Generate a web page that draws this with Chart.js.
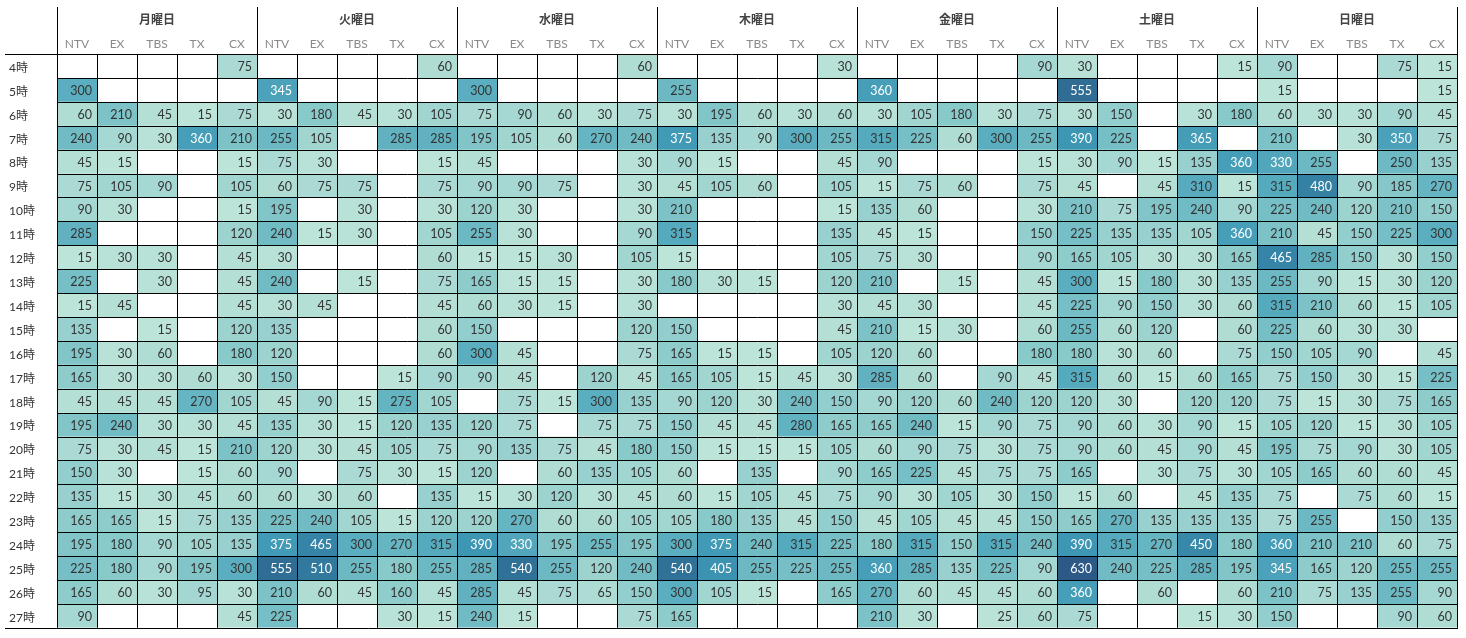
<!DOCTYPE html>
<html lang="ja">
<head>
<meta charset="utf-8">
<title>曜日・時間帯別 局別</title>
<script src="https://cdn.jsdelivr.net/npm/chart.js@4/dist/chart.umd.min.js"></script>
<style>
  html, body { margin: 0; padding: 0; background: #fff; }
  #wrap { width: 1466px; height: 638px; }
</style>
</head>
<body>
<div id="wrap"><canvas id="heat"></canvas></div>
<script>
var DAYS = ["月曜日", "火曜日", "水曜日", "木曜日", "金曜日", "土曜日", "日曜日"];
var CHANNELS = ["NTV", "EX", "TBS", "TX", "CX"];
var HOURS = ["4時", "5時", "6時", "7時", "8時", "9時", "10時", "11時", "12時", "13時", "14時", "15時",
  "16時", "17時", "18時", "19時", "20時", "21時", "22時", "23時", "24時", "25時", "26時", "27時"];

// one row per hour: [NTV, EX, TBS, TX, CX], null = blank cell
var MON = [
  [null, null, null, null, 75], [300, null, null, null, null], [60, 210, 45, 15, 75], [240, 90, 30, 360, 210],
  [45, 15, null, null, 15], [75, 105, 90, null, 105], [90, 30, null, null, 15], [285, null, null, null, 120],
  [15, 30, 30, null, 45], [225, null, 30, null, 45], [15, 45, null, null, 45], [135, null, 15, null, 120],
  [195, 30, 60, null, 180], [165, 30, 30, 60, 30], [45, 45, 45, 270, 105], [195, 240, 30, 30, 45],
  [75, 30, 45, 15, 210], [150, 30, null, 15, 60], [135, 15, 30, 45, 60], [165, 165, 15, 75, 135],
  [195, 180, 90, 105, 135], [225, 180, 90, 195, 300], [165, 60, 30, 95, 30], [90, null, null, null, 45]
];
var TUE = [
  [null, null, null, null, 60], [345, null, null, null, null], [30, 180, 45, 30, 105], [255, 105, null, 285, 285],
  [75, 30, null, null, 15], [60, 75, 75, null, 75], [195, null, 30, null, 30], [240, 15, 30, null, 105],
  [30, null, null, null, 60], [240, null, 15, null, 75], [30, 45, null, null, 45], [135, null, null, null, 60],
  [120, null, null, null, 60], [150, null, null, 15, 90], [45, 90, 15, 275, 105], [135, 30, 15, 120, 135],
  [120, 30, 45, 105, 75], [90, null, 75, 30, 15], [60, 30, 60, null, 135], [225, 240, 105, 15, 120],
  [375, 465, 300, 270, 315], [555, 510, 255, 180, 255], [210, 60, 45, 160, 45], [225, null, null, 30, 15]
];
var WED = [
  [null, null, null, null, 60], [300, null, null, null, null], [75, 90, 60, 30, 75], [195, 105, 60, 270, 240],
  [45, null, null, null, 30], [90, 90, 75, null, 30], [120, 30, null, null, 30], [255, 30, null, null, 90],
  [15, 15, 30, null, 105], [165, 15, 15, null, 30], [60, 30, 15, null, 30], [150, null, null, null, 120],
  [300, 45, null, null, 75], [90, 45, null, 120, 45], [null, 75, 15, 300, 135], [120, 75, null, 75, 75],
  [90, 135, 75, 45, 180], [120, null, 60, 135, 105], [15, 30, 120, 30, 45], [120, 270, 60, 60, 105],
  [390, 330, 195, 255, 195], [285, 540, 255, 120, 240], [285, 45, 75, 65, 150], [240, 15, null, null, 75]
];
var THU = [
  [null, null, null, null, 30], [255, null, null, null, null], [30, 195, 60, 30, 60], [375, 135, 90, 300, 255],
  [90, 15, null, null, 45], [45, 105, 60, null, 105], [210, null, null, null, 15], [315, null, null, null, 135],
  [15, null, null, null, 105], [180, 30, 15, null, 120], [null, null, null, null, 30], [150, null, null, null, 45],
  [165, 15, 15, null, 105], [165, 105, 15, 45, 30], [90, 120, 30, 240, 150], [150, 45, 45, 280, 165],
  [150, 15, 15, 15, 105], [60, null, 135, null, 90], [60, 15, 105, 45, 75], [105, 180, 135, 45, 150],
  [300, 375, 240, 315, 225], [540, 405, 255, 225, 255], [300, 105, 15, null, 165], [165, null, null, null, null]
];
var FRI = [
  [null, null, null, null, 90], [360, null, null, null, null], [30, 105, 180, 30, 75], [315, 225, 60, 300, 255],
  [90, null, null, null, 15], [15, 75, 60, null, 75], [135, 60, null, null, 30], [45, 15, null, null, 150],
  [75, 30, null, null, 90], [210, null, 15, null, 45], [45, 30, null, null, 45], [210, 15, 30, null, 60],
  [120, 60, null, null, 180], [285, 60, null, 90, 45], [90, 120, 60, 240, 120], [165, 240, 15, 90, 75],
  [60, 90, 75, 30, 75], [165, 225, 45, 75, 75], [90, 30, 105, 30, 150], [45, 105, 45, 45, 150],
  [180, 315, 150, 315, 240], [360, 285, 135, 225, 90], [270, 60, 45, 45, 60], [210, 30, null, 25, 60]
];
var SAT = [
  [30, null, null, null, 15], [555, null, null, null, null], [30, 150, null, 30, 180], [390, 225, null, 365, null],
  [30, 90, 15, 135, 360], [45, null, 45, 310, 15], [210, 75, 195, 240, 90], [225, 135, 135, 105, 360],
  [165, 105, 30, 30, 165], [300, 15, 180, 30, 135], [225, 90, 150, 30, 60], [255, 60, 120, null, 60],
  [180, 30, 60, null, 75], [315, 60, 15, 60, 165], [120, 30, null, 120, 120], [90, 60, 30, 90, 15],
  [90, 60, 45, 90, 45], [165, null, 30, 75, 30], [15, 60, null, 45, 135], [165, 270, 135, 135, 135],
  [390, 315, 270, 450, 180], [630, 240, 225, 285, 195], [360, null, 60, null, 60], [75, null, null, 15, 30]
];
var SUN = [
  [90, null, null, 75, 15], [15, null, null, null, 15], [60, 30, 30, 90, 45], [210, null, 30, 350, 75],
  [330, 255, null, 250, 135], [315, 480, 90, 185, 270], [225, 240, 120, 210, 150], [210, 45, 150, 225, 300],
  [465, 285, 150, 30, 150], [255, 90, 15, 30, 120], [315, 210, 60, 15, 105], [225, 60, 30, 30, null],
  [150, 105, 90, null, 45], [75, 150, 30, 15, 225], [75, 15, 30, 75, 165], [105, 120, 15, 30, 105],
  [195, 75, 90, 30, 105], [105, 165, 60, 60, 45], [75, null, 75, 60, 15], [75, 255, null, 150, 135],
  [360, 210, 210, 60, 75], [345, 165, 120, 255, 255], [210, 75, 135, 255, 90], [150, null, null, 90, 60]
];

var WEEK = [MON, TUE, WED, THU, FRI, SAT, SUN];
var FONT = "Lato, 'Noto Sans CJK JP', sans-serif";

// Tableau-like blue-teal ramp
var RAMP = [
  [0, [189, 228, 216]],
  [0.25, [140, 203, 203]],
  [0.45, [94, 176, 192]],
  [0.6, [62, 152, 181]],
  [0.8, [50, 122, 159]],
  [1, [44, 89, 133]]
];

function allValues() {
  var out = [];
  WEEK.forEach(function (day) {
    day.forEach(function (row) {
      row.forEach(function (v) { if (v != null) out.push(v); });
    });
  });
  return out;
}

var VALS = allValues();
var VMIN = Math.min.apply(null, VALS);
var VMAX = Math.max.apply(null, VALS);

function cellColor(v) {
  if (v == null) return "#ffffff";
  var t = (v - VMIN) / (VMAX - VMIN);
  for (var i = 1; i < RAMP.length; i++) {
    if (t <= RAMP[i][0]) {
      var a = RAMP[i - 1], b = RAMP[i];
      var k = (t - a[0]) / (b[0] - a[0]);
      var c = a[1].map(function (x, n) { return Math.round(x + (b[1][n] - x) * k); });
      return "rgb(" + c.join(",") + ")";
    }
  }
  return "rgb(" + RAMP[RAMP.length - 1][1].join(",") + ")";
}

// 35 columns: day x channel
var columnLabels = [];
WEEK.forEach(function () {
  CHANNELS.forEach(function (ch) { columnLabels.push(ch); });
});

var datasets = HOURS.map(function (h, r) {
  var values = [];
  WEEK.forEach(function (day) {
    day[r].forEach(function (v) { values.push(v); });
  });
  return {
    label: h,
    values: values,
    data: values.map(function () { return [r, r + 1]; }),
    backgroundColor: values.map(cellColor),
    borderWidth: 0,
    inflateAmount: 0,
    grouped: false,
    barPercentage: 1,
    categoryPercentage: 1
  };
});

var tablePlugin = {
  id: "tablePlugin",
  afterDatasetsDraw: function (chart) {
    var ctx = chart.ctx;
    var xs = chart.scales.x;
    var ys = chart.scales.y;
    var days = chart.scales.days;
    var area = chart.chartArea;

    ctx.save();
    ctx.font = "12.5px " + FONT;
    ctx.textAlign = "right";
    ctx.textBaseline = "middle";
    chart.data.datasets.forEach(function (ds, i) {
      chart.getDatasetMeta(i).data.forEach(function (bar, j) {
        var v = ds.values[j];
        if (v == null) return;
        var p = bar.getProps(["x", "y", "base", "width"], true);
        ctx.fillStyle = v >= 325 ? "#ffffff" : "#333333";
        ctx.fillText(String(v), p.x + p.width / 2 - 5, (p.y + p.base) / 2 + 1);
      });
    });

    ctx.strokeStyle = "#000000";
    ctx.lineWidth = 1;
    ctx.beginPath();
    for (var c = 0; c <= columnLabels.length; c++) {
      var x = Math.round(xs.getPixelForValue(c - 0.5)) + 0.5;
      var y0 = c % CHANNELS.length === 0 ? days.top + 2 : area.top;
      ctx.moveTo(x, y0);
      ctx.lineTo(x, area.bottom);
    }
    for (var r = 0; r <= HOURS.length; r++) {
      var y = Math.round(ys.getPixelForValue(r)) + 0.5;
      var x0 = (r === 0 || r === HOURS.length) ? ys.left - 4 : area.left;
      ctx.moveTo(x0, y);
      ctx.lineTo(area.right + 1, y);
    }
    ctx.stroke();
    ctx.restore();
  }
};

new Chart(document.getElementById("heat"), {
  type: "bar",
  data: { labels: columnLabels, datasets: datasets },
  options: {
    responsive: true,
    maintainAspectRatio: false,
    animation: false,
    events: [],
    layout: { padding: { left: 9, top: 5, right: 9, bottom: 8 } },
    plugins: { legend: { display: false }, tooltip: { enabled: false } },
    scales: {
      x: {
        type: "category",
        position: "top",
        weight: 0,
        offset: true,
        grid: { display: false, drawTicks: false },
        border: { display: false },
        ticks: {
          autoSkip: false, maxRotation: 0, padding: 3,
          color: "#8a8a8a", font: { family: FONT, size: 12 }
        },
        afterFit: function (axis) { axis.height = 25; }
      },
      days: {
        type: "category",
        axis: "x",
        position: "top",
        weight: 1,
        labels: DAYS,
        offset: true,
        grid: { display: false, drawTicks: false },
        border: { display: false },
        ticks: {
          autoSkip: false, maxRotation: 0, padding: 2,
          color: "#444444", font: { family: FONT, size: 12, weight: "bold" }
        },
        afterFit: function (axis) { axis.height = 24; }
      },
      y: {
        type: "linear",
        min: 0,
        max: HOURS.length,
        reverse: true,
        grid: { display: false, drawTicks: false },
        border: { display: false },
        afterBuildTicks: function (axis) {
          axis.ticks = HOURS.map(function (h, i) { return { value: i + 0.5 }; });
        },
        ticks: {
          crossAlign: "far",
          labelOffset: 2,
          color: "#333333",
          font: { family: FONT, size: 12 },
          callback: function (value) { return HOURS[Math.floor(value)]; }
        },
        afterFit: function (axis) { axis.width = 48; }
      }
    }
  },
  plugins: [tablePlugin]
});
</script>
</body>
</html>
